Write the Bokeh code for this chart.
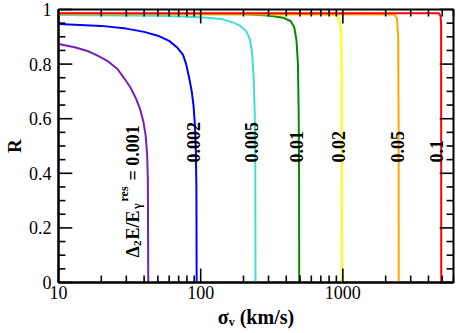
from math import pi, log10
from bokeh.plotting import figure
from bokeh.models import FixedTicker, CustomJSTickFormatter, Label, Range1d
from bokeh.embed import file_html
from bokeh.resources import INLINE

# ---- data ----
labels = ["0.001", "0.002", "0.005", "0.01", "0.02", "0.05", "0.1"]
colors = ["#7221bc", "#0000ff", "#40e0d0", "#008b00", "#ffff00", "#ffa500", "#ff0000"]

sigma_0001 = [10, 13, 16, 19, 22, 26, 29, 32, 35, 37.5, 39.5, 41, 42, 42.5, 42.8]
R_0001 = [0.874, 0.862, 0.848, 0.830, 0.812, 0.782, 0.748, 0.715, 0.675, 0.635, 0.59, 0.54, 0.47, 0.38, 0.0]

sigma_0002 = [10, 20, 30, 40, 50, 60, 68, 75, 79, 83, 86.5, 89, 91, 92.5, 93.3, 93.7]
R_0002 = [0.947, 0.940, 0.930, 0.918, 0.904, 0.885, 0.862, 0.835, 0.80, 0.75, 0.70, 0.65, 0.58, 0.48, 0.35, 0.0]

sigma_0005 = [10, 50, 100, 140, 170, 190, 210, 222, 230, 236, 240, 242, 243]
R_0005 = [0.980, 0.977, 0.972, 0.965, 0.952, 0.940, 0.920, 0.89, 0.84, 0.75, 0.62, 0.45, 0.0]

sigma_001 = [10, 200, 300, 380, 430, 455, 472, 483, 489, 492, 493]
R_001 = [0.984, 0.983, 0.978, 0.970, 0.957, 0.935, 0.886, 0.80, 0.62, 0.40, 0.0]

sigma_002 = [10, 800, 900, 950, 975, 983, 986]
R_002 = [0.984, 0.982, 0.978, 0.962, 0.91, 0.72, 0.0]

sigma_005 = [10, 2300, 2400, 2450, 2465, 2472]
R_005 = [0.984, 0.982, 0.968, 0.90, 0.60, 0.0]

sigma_01 = [10, 4750, 4870, 4910, 4920]
R_01 = [0.986, 0.986, 0.975, 0.94, 0.0]

x_major = [10, 100, 1000]
x_minor = [20, 30, 40, 50, 60, 70, 80, 90, 200, 300, 400, 500, 600, 700, 800, 900,
           2000, 3000, 4000, 5000, 6000]
y_major = [0, 0.2, 0.4, 0.6, 0.8, 1.0]
y_minor = [0.05, 0.1, 0.15, 0.25, 0.3, 0.35, 0.45, 0.5, 0.55, 0.65, 0.7, 0.75, 0.85, 0.9, 0.95]

x_title = "σᵥ (km/s)"
y_title = "R"

series = [(sigma_0001, R_0001), (sigma_0002, R_0002), (sigma_0005, R_0005), (sigma_001, R_001),
          (sigma_002, R_002), (sigma_005, R_005), (sigma_01, R_01)]

X_MIN, X_MAX = 10, 6000
Y_MIN, Y_MAX = 0, 1
SERIF = "Liberation Serif"

W, H = 457, 333
BL, BR, BT, BB = 53, 4, 9, 51
FW, FH = W - BL - BR, H - BT - BB          # frame size in px
PX_PER_DEC = FW / (log10(X_MAX) - log10(X_MIN))
PX_PER_Y = FH / (Y_MAX - Y_MIN)

p = figure(width=W, height=H, x_axis_type="log",
           x_range=Range1d(X_MIN, X_MAX), y_range=Range1d(Y_MIN, Y_MAX),
           output_backend="svg", toolbar_location=None,
           min_border_left=BL, min_border_right=BR, min_border_top=BT, min_border_bottom=BB)
p.xgrid.visible = False
p.ygrid.visible = False
p.outline_line_color = "black"
p.outline_line_width = 2
p.background_fill_color = "white"
p.border_fill_color = "white"

for (s, r), c in zip(series, colors):
    p.line(s, r, line_color=c, line_width=2)

# inward tick marks on all four sides, drawn as thin filled bars from the frame edge
TW = 1.6                       # tick thickness, px
hx = 10 ** (TW / 2 / PX_PER_DEC)
hy = TW / 2 / PX_PER_Y
for xs, ln in ((x_major, 14), (x_minor, 7)):
    dy = ln / PX_PER_Y
    n = len(xs)
    for y0, y1 in ((Y_MIN, Y_MIN + dy), (Y_MAX - dy, Y_MAX)):
        p.quad(left=[x / hx for x in xs], right=[x * hx for x in xs],
               bottom=[y0] * n, top=[y1] * n,
               fill_color="black", line_color=None, level="annotation")
for ys, ln in ((y_major, 14), (y_minor, 7)):
    f = 10 ** (ln / PX_PER_DEC)
    n = len(ys)
    for x0, x1 in ((X_MIN, X_MIN * f), (X_MAX / f, X_MAX)):
        p.quad(left=[x0] * n, right=[x1] * n,
               bottom=[y - hy for y in ys], top=[y + hy for y in ys],
               fill_color="black", line_color=None, level="annotation")

fmt = CustomJSTickFormatter(code="return tick.toString()")
for ax, ticks in ((p.xaxis[0], x_major), (p.yaxis[0], y_major)):
    ax.ticker = FixedTicker(ticks=ticks)
    ax.formatter = fmt
    ax.major_tick_in = 0
    ax.major_tick_out = 0
    ax.minor_tick_in = 0
    ax.minor_tick_out = 0
    ax.axis_line_width = 2
    ax.axis_line_color = "black"
    ax.major_label_text_font = SERIF
    ax.major_label_text_font_size = "18px"
    ax.major_label_text_color = "black"
    ax.axis_label_text_font = SERIF
    ax.axis_label_text_font_style = "bold"
    ax.axis_label_text_color = "black"

p.xaxis[0].major_label_standoff = 3
p.xaxis[0].axis_label = x_title
p.xaxis[0].axis_label_text_font_size = "20px"
p.xaxis[0].axis_label_standoff = 4

p.yaxis[0].major_label_standoff = 7
p.yaxis[0].axis_label = y_title
p.yaxis[0].axis_label_text_font_size = "19px"
p.yaxis[0].axis_label_standoff = 1


# page-pixel -> data helpers (frame: x 53..453, y 9..282)
def x_of(xp):
    return 10 ** (log10(X_MIN) + (xp - BL) / PX_PER_DEC)


def y_of(yp):
    return Y_MAX - (yp - BT) / PX_PER_Y


def add(text, x, y, size, angle=0.0, align="left", baseline="alphabetic"):
    p.add_layout(Label(x=x, y=y, text=text, angle=angle, text_font=SERIF,
                       text_font_size=size, text_font_style="bold",
                       text_color="black", text_align=align, text_baseline=baseline))


# curve labels (rotated, reading upwards)
label_base_x = [None, 190, 248, 294, 337, 396, 436]
for name, bx in zip(labels[1:], label_base_x[1:]):
    add(name, x_of(bx), y_of(162), "18px", angle=pi / 2)

# composite label  Δ2E/Eγ^res = 0.001
add("Δ", x_of(128), y_of(257), "18px", angle=pi / 2)
add("2", x_of(132.5), y_of(245.5), "11px", angle=pi / 2)
add("E/E", x_of(128), y_of(239), "18px", angle=pi / 2)
add("γ", x_of(132.5), y_of(208.5), "12px", angle=pi / 2)
add("res", x_of(119), y_of(201), "12px", angle=pi / 2)
add("= " + labels[0], x_of(128), y_of(180), "18px", angle=pi / 2)

open("out.html", "w").write(file_html(p, INLINE))
